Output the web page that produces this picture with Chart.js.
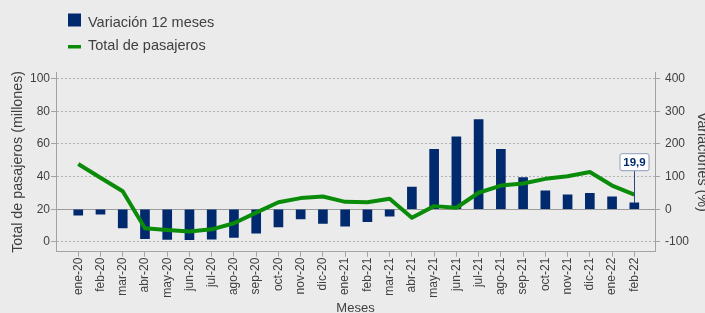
<!DOCTYPE html>
<html><head><meta charset="utf-8">
<script src="https://cdn.jsdelivr.net/npm/chart.js@4.4.1/dist/chart.umd.min.js"></script>
<style>
html,body{margin:0;padding:0;background:#ebebeb;overflow:hidden;}
#wrap{position:relative;width:705px;height:313px;}
canvas{display:block;}
</style></head><body>
<div id="wrap"><canvas id="c" width="705" height="313"></canvas></div>
<script>
const months = ['ene-20','feb-20','mar-20','abr-20','may-20','jun-20','jul-20','ago-20','sep-20','oct-20','nov-20','dic-20',
  'ene-21','feb-21','mar-21','abr-21','may-21','jun-21','jul-21','ago-21','sep-21','oct-21','nov-21','dic-21','ene-22','feb-22'];
const variation = [-18.5,-15.5,-57,-90,-92.4,-93.4,-91.4,-86,-73,-54,-29.6,-43.8,
  -52,-38,-21.5,67.8,183,221.6,274.5,183,97,56.5,44.4,48.3,38.3,19.9];
const passengers = [47.7,39.3,31.0,8.3,7.3,6.3,7.7,11.4,17.9,24.3,26.8,27.8,
  24.5,24.3,26.4,14.8,21.9,20.9,30.1,34.5,35.7,38.6,40.2,42.8,34.5,29.0];
const leftTicks = [0,20,40,60,80,100];
const rightTicks = [-100,0,100,200,300,400];
const seriesNames = ['Variación 12 meses','Total de pasajeros'];
const leftTitle = 'Total de pasajeros (millones)';
const rightTitle = 'Variaciones (%)';
const xTitle = 'Meses';

const BAR = '#012a6e', LINE = '#0a8c0a', TXT = '#404040', AX = '#a3a3a3';
const FONT = "'Liberation Sans', Arial, sans-serif";
Chart.defaults.font.family = FONT;
Chart.defaults.color = TXT;

const legendPlugin = {
  id: 'customLegend',
  afterDraw(chart) {
    const ctx = chart.ctx;
    const ds = chart.data.datasets;
    ctx.save();
    ctx.font = "14.5px " + FONT;
    ctx.textBaseline = 'alphabetic';
    ctx.textAlign = 'left';
    ctx.fillStyle = ds[0].backgroundColor;
    ctx.fillRect(68, 13.5, 13, 13);
    ctx.fillStyle = TXT;
    ctx.fillText(ds[0].label, 88, 26.7);
    ctx.fillStyle = ds[1].borderColor;
    ctx.fillRect(68, 45, 13, 3.5);
    ctx.fillStyle = TXT;
    ctx.fillText(ds[1].label, 88, 50);
    ctx.restore();
  }
};

const annotationPlugin = {
  id: 'lastLabel',
  afterDatasetsDraw(chart) {
    const meta = chart.getDatasetMeta(0);
    const n = meta.data.length - 1;
    const el = meta.data[n];
    const val = chart.data.datasets[0].data[n].y;
    const txt = val.toFixed(1).replace('.', ',');
    const ctx = chart.ctx;
    const x = Math.round(el.x) + 0.5;
    const boxBottom = el.y - 32;
    const w = 29, h = 17;
    ctx.save();
    ctx.strokeStyle = '#2b4780';
    ctx.lineWidth = 1;
    ctx.beginPath();
    ctx.moveTo(x, el.y);
    ctx.lineTo(x, boxBottom);
    ctx.stroke();
    ctx.beginPath();
    ctx.roundRect(x - w/2, boxBottom - h, w, h, 2);
    ctx.fillStyle = '#ffffff';
    ctx.fill();
    ctx.strokeStyle = '#8c9cbd';
    ctx.stroke();
    ctx.fillStyle = BAR;
    ctx.font = "bold 11.5px " + FONT;
    ctx.textAlign = 'center';
    ctx.textBaseline = 'middle';
    ctx.fillText(txt, x, boxBottom - h/2 + 0.5);
    ctx.restore();
  }
};

new Chart(document.getElementById('c'), {
  data: {
    datasets: [
      {
        type: 'bar', label: seriesNames[0], yAxisID: 'y1', order: 1,
        data: variation.map((v, i) => ({x: i, y: v})),
        backgroundColor: BAR, borderWidth: 0, barThickness: 9
      },
      {
        type: 'line', label: seriesNames[1], yAxisID: 'y', order: 0,
        data: passengers.map((v, i) => ({x: i, y: v})),
        borderColor: LINE, backgroundColor: LINE, borderWidth: 4,
        pointRadius: 0, tension: 0, borderJoinStyle: 'round', fill: false
      }
    ]
  },
  options: {
    responsive: false, animation: false, devicePixelRatio: 1,
    layout: { padding: { top: 72, left: 0, right: 0, bottom: 0 } },
    plugins: { legend: { display: false }, tooltip: { enabled: false } },
    scales: {
      x: {
        type: 'linear', position: 'bottom', min: -1, max: 25.93, offset: false,
        afterBuildTicks: s => { s.ticks = months.map((m, i) => ({value: i})); },
        afterFit: s => { s.height = 61.3; },
        ticks: { autoSkip: false, minRotation: 90, maxRotation: 90, padding: 1,
          color: TXT, font: { size: 12 }, callback: v => months[v] },
        grid: { offset: false, drawOnChartArea: false, drawTicks: true, tickLength: 5, color: AX },
        border: { color: AX, width: 1 },
        title: { display: true, text: xTitle, color: TXT, font: { size: 13 }, padding: { top: 0, bottom: -3 } }
      },
      y: {
        type: 'linear', position: 'left', min: -6, max: 104,
        afterBuildTicks: s => { s.ticks = leftTicks.map(v => ({value: v})); },
        afterFit: s => { s.width = 56; },
        ticks: { padding: 1, color: TXT, font: { size: 12 } },
        grid: {
          color: c => (c.tick && c.tick.value === 20) ? '#9c9c9c' : '#b2b2b2',
          tickColor: AX, tickLength: 5, lineWidth: 1
        },
        border: { color: AX, width: 1, dash: c => (c.tick && c.tick.value === 20) ? [] : [2, 2] },
        title: { display: true, text: leftTitle, color: TXT, font: { size: 14.3 }, padding: { top: 9.5, bottom: 0 } }
      },
      y1: {
        type: 'linear', position: 'right', min: -130, max: 420,
        afterBuildTicks: s => { s.ticks = rightTicks.map(v => ({value: v})); },
        afterFit: s => { s.width = 50; },
        ticks: { padding: 5, color: TXT, font: { size: 12 } },
        grid: { drawOnChartArea: false, tickLength: 5, color: AX },
        border: { color: AX, width: 1 },
        title: { display: true, text: rightTitle, color: TXT, font: { size: 14.3 }, padding: { top: -5.6, bottom: 0 } }
      }
    }
  },
  plugins: [legendPlugin, annotationPlugin]
});
</script>
</body></html>
